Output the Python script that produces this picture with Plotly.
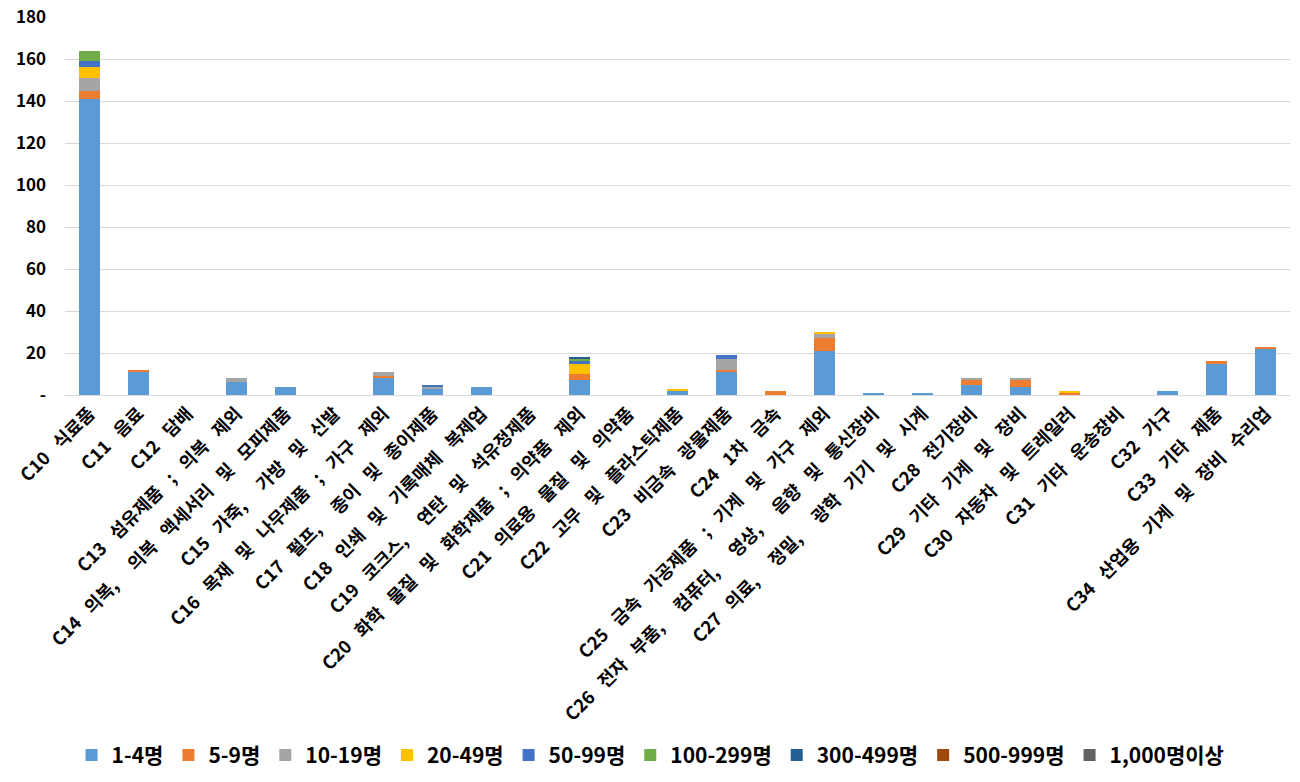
import plotly.graph_objects as go

categories = [
    "C10 식료품", "C11 음료", "C12 담배", "C13 섬유제품 ; 의복 제외",
    "C14 의복, 의복 액세서리 및 모피제품", "C15 가죽, 가방 및 신발",
    "C16 목재 및 나무제품 ; 가구 제외", "C17 펄프, 종이 및 종이제품",
    "C18 인쇄 및 기록매체 복제업", "C19 코크스, 연탄 및 석유정제품",
    "C20 화학 물질 및 화학제품 ; 의약품 제외", "C21 의료용 물질 및 의약품",
    "C22 고무 및 플라스틱제품", "C23 비금속 광물제품", "C24 1차 금속",
    "C25 금속 가공제품 ; 기계 및 가구 제외",
    "C26 전자 부품, 컴퓨터, 영상, 음향 및 통신장비",
    "C27 의료, 정밀, 광학 기기 및 시계", "C28 전기장비", "C29 기타 기계 및 장비",
    "C30 자동차 및 트레일러", "C31 기타 운송장비", "C32 가구", "C33 기타 제품",
    "C34 산업용 기계 및 장비 수리업",
]

#              C10 C11 C12 C13 C14 C15 C16 C17 C18 C19 C20 C21 C22 C23 C24 C25 C26 C27 C28 C29 C30 C31 C32 C33 C34
s_1_4      = [141, 11,  0,  6,  4,  0,  8,  3,  4,  0,  7,  0,  2, 11,  0, 21,  1,  1,  5,  4,  0,  0,  2, 15, 22]
s_5_9      = [  4,  1,  0,  0,  0,  0,  1,  0,  0,  0,  3,  0,  0,  1,  2,  6,  0,  0,  2,  3,  1,  0,  0,  1,  1]
s_10_19    = [  6,  0,  0,  2,  0,  0,  2,  1,  0,  0,  0,  0,  0,  5,  0,  2,  0,  0,  1,  1,  0,  0,  0,  0,  0]
s_20_49    = [  5,  0,  0,  0,  0,  0,  0,  0,  0,  0,  5,  0,  1,  0,  0,  1,  0,  0,  0,  0,  1,  0,  0,  0,  0]
s_50_99    = [  3,  0,  0,  0,  0,  0,  0,  1,  0,  0,  1,  0,  0,  2,  0,  0,  0,  0,  0,  0,  0,  0,  0,  0,  0]
s_100_299  = [  5,  0,  0,  0,  0,  0,  0,  0,  0,  0,  1,  0,  0,  0,  0,  0,  0,  0,  0,  0,  0,  0,  0,  0,  0]
s_300_499  = [  0,  0,  0,  0,  0,  0,  0,  0,  0,  0,  1,  0,  0,  0,  0,  0,  0,  0,  0,  0,  0,  0,  0,  0,  0]
s_500_999  = [  0] * 25
s_1000     = [  0] * 25

series_names = ["1-4명", "5-9명", "10-19명", "20-49명", "50-99명",
                "100-299명", "300-499명", "500-999명", "1,000명이상"]
series_colors = ["#5B9BD5", "#ED7D31", "#A5A5A5", "#FFC000", "#4472C4",
                 "#70AD47", "#255E91", "#9E480E", "#636363"]
series_values = [s_1_4, s_5_9, s_10_19, s_20_49, s_50_99,
                 s_100_299, s_300_499, s_500_999, s_1000]

y_tickvals = [0, 20, 40, 60, 80, 100, 120, 140, 160, 180]
y_ticktext = ["-", "20", "40", "60", "80", "100", "120", "140", "160", "180"]

FONT = "Noto Sans CJK KR"

# the reference renders word gaps (especially after commas) wider than a plain space
x_ticktext = [c.replace(", ", ",\u2002 ").replace(" ", "\u2002 ").replace("\u2002 \u2002 ", "\u2002\u2002 ")
              for c in categories]

fig = go.Figure()
for name, color, vals in zip(series_names, series_colors, series_values):
    fig.add_trace(go.Bar(x=categories, y=vals, name=name,
                         marker=dict(color=color, line=dict(width=0))))

fig.update_layout(
    width=1300, height=782,
    barmode="stack", bargap=0.59,
    plot_bgcolor="white", paper_bgcolor="white",
    margin=dict(l=65, r=10, t=17, b=387, autoexpand=False),
    font=dict(family=FONT, size=17, color="black", weight="bold"),
    legend=dict(orientation="h", x=0.478, xanchor="center", y=-0.953, yanchor="middle",
                traceorder="normal", font=dict(family=FONT, size=21, color="black", weight="bold"),
                itemwidth=30),
    showlegend=True,
)
fig.update_xaxes(tickangle=-45, showgrid=False, showline=True, linecolor="#D9D9D9",
                 linewidth=1, ticks="", automargin=False,
                 tickvals=categories, ticktext=x_ticktext,
                 tickfont=dict(family=FONT, size=18, color="black", weight="bold"))
fig.update_yaxes(range=[0, 180], tickvals=y_tickvals, ticktext=y_ticktext,
                 showgrid=True, gridcolor="#D9D9D9", gridwidth=1, zeroline=False,
                 ticks="", ticklabelstandoff=18, automargin=False,
                 tickfont=dict(family=FONT, size=17, color="black", weight="bold"))

fig.write_html("out.html", config={"displayModeBar": False},
               post_script="document.body.style.margin='0';")
